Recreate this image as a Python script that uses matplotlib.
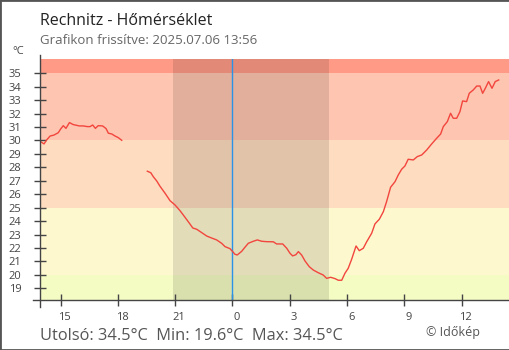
import matplotlib.pyplot as plt
from matplotlib.patches import Rectangle
from matplotlib.transforms import ScaledTranslation

plt.rcParams['font.family'] = ['Open Sans', 'DejaVu Sans']

# hours relative to midnight (negative = previous evening), temperature in °C
hours_afternoon = [-10.03, -9.87, -9.73, -9.55, -9.35, -9.12, -9.0, -8.86, -8.72, -8.54,
                   -8.34, -8.02, -7.81, -7.6, -7.46, -7.32, -7.18, -7.03, -6.8, -6.62,
                   -6.5, -6.32, -6.15, -5.98, -5.8]
temp_afternoon = [29.9, 29.74, 30.04, 30.33, 30.4, 30.58, 30.85, 31.1, 30.9, 31.33,
                  31.18, 31.08, 31.08, 31.03, 31.03, 31.15, 30.9, 31.1, 31.08, 30.88,
                  30.54, 30.48, 30.33, 30.21, 30.01]

hours_night = [-4.46, -4.28, -4.15, -3.97, -3.8, -3.53, -3.27, -3.01, -2.75, -2.49,
               -2.23, -2.08, -1.87, -1.61, -1.35, -1.09, -0.83, -0.57, -0.39, -0.13,
               0.01, 0.13, 0.25, 0.48, 0.65, 0.83, 1.09, 1.3, 1.53, 1.79,
               2.14, 2.31, 2.63, 2.84, 3.01, 3.15, 3.32, 3.45, 3.62, 3.8,
               4.02, 4.23, 4.49, 4.75, 4.93, 5.14, 5.37, 5.54, 5.72, 5.89,
               6.06, 6.24, 6.47, 6.64, 6.85, 7.03, 7.29, 7.46, 7.69, 7.9,
               8.07, 8.28, 8.51, 8.68, 8.86, 9.03, 9.2, 9.47, 9.68, 9.91,
               10.17, 10.43, 10.69, 10.9, 11.04, 11.25, 11.42, 11.56, 11.74, 11.91,
               12.05, 12.26, 12.4, 12.61, 12.79, 12.96, 13.1, 13.24, 13.41, 13.59,
               13.76, 13.94]
temp_night = [27.71, 27.6, 27.31, 26.99, 26.6, 26.07, 25.52, 25.2, 24.78, 24.29,
              23.79, 23.49, 23.39, 23.14, 22.89, 22.74, 22.6, 22.35, 22.1, 21.95,
              21.73, 21.53, 21.48, 21.75, 22.05, 22.35, 22.5, 22.6, 22.5, 22.47,
              22.46, 22.3, 22.3, 21.98, 21.61, 21.41, 21.5, 21.73, 21.48, 21.03,
              20.61, 20.36, 20.16, 19.99, 19.74, 19.82, 19.72, 19.6, 19.6, 20.12,
              20.49, 21.16, 22.15, 21.8, 21.98, 22.47, 23.1, 23.79, 24.14, 24.7,
              25.45, 26.52, 26.93, 27.43, 27.86, 28.1, 28.6, 28.55, 28.8, 28.92,
              29.29, 29.74, 30.16, 30.48, 31.03, 31.4, 32.02, 31.65, 31.65, 32.14,
              32.94, 32.89, 33.51, 33.76, 34.05, 34.05, 33.51, 33.88, 34.38, 33.88,
              34.38, 34.5]

band_edges = [0, 20, 25, 30, 35, 50]
band_colors = ['#f4fcc4', '#fef8cf', '#fddcbf', '#fec5b0', '#fe9a86']
sunset, sunrise = -3.12, 5.05
x_ticks = [-9, -6, -3, 0, 3, 6, 9, 12]
x_labels = ['15', '18', '21', '0', '3', '6', '9', '12']
y_ticks = list(range(19, 36))

fig = plt.figure(figsize=(5.1, 3.5), dpi=100)
ax = fig.add_axes([40 / 510, 50 / 350, 469 / 510, 241 / 350])

for lo, hi, c in zip(band_edges[:-1], band_edges[1:], band_colors):
    ax.axhspan(lo, hi, color=c, lw=0, zorder=0)
ax.axvspan(sunset, sunrise, color='black', alpha=0.11, lw=0, zorder=1)
ax.axvline(0, color='#2a93e8', lw=1.0, zorder=2)

ax.plot(hours_afternoon, temp_afternoon, color='#f2453d', lw=1.0, zorder=3)
ax.plot(hours_night, temp_night, color='#f2453d', lw=1.0, zorder=3)

ax.set_xlim(-10.08, 14.48)
ax.set_ylim(18.13, 36.06)
ax.set_xticks(x_ticks, x_labels)
ax.set_yticks(y_ticks)
for s in ax.spines.values():
    s.set_visible(False)
ax.tick_params(direction='inout', length=8.5, width=1, color='#444',
               labelsize=8, labelcolor='#444')
ax.tick_params(axis='y', pad=9.3)
ax.tick_params(axis='x', pad=4.5)
shift = ScaledTranslation(4 / 100, 0, fig.dpi_scale_trans)
for lbl in ax.get_xticklabels():
    lbl.set_transform(lbl.get_transform() + shift)

# axis lines run slightly past the plot corner
ax.plot([-0.015, 1], [0, 0], transform=ax.transAxes, color='#444', lw=1, clip_on=False, zorder=4)
ax.plot([0, 0], [-0.03, 1.015], transform=ax.transAxes, color='#444', lw=1, clip_on=False, zorder=4)

fig.text(40 / 510, 1 - 25 / 350, 'Rechnitz - Hőmérséklet', fontsize=11.5, color='#222',
         va='baseline')
fig.text(40 / 510, 1 - 44.5 / 350, 'Grafikon frissítve: 2025.07.06 13:56', fontsize=9.5,
         color='#666', va='baseline')
fig.text(12 / 510, 1 - 54 / 350, '°C', fontsize=8, color='#444', va='baseline')
fig.text(40 / 510, 1 - 339.5 / 350, 'Utolsó: 34.5°C  Min: 19.6°C  Max: 34.5°C',
         fontsize=11.75, color='#555', va='baseline')
fig.text(426 / 510, 1 - 336 / 350, '© Időkép', fontsize=9, color='#555', va='baseline')

fig.patches.append(Rectangle((0, 0), 1, 1, transform=fig.transFigure, fill=False,
                             edgecolor='#555', lw=2))

fig.savefig('out.png', dpi=100)
